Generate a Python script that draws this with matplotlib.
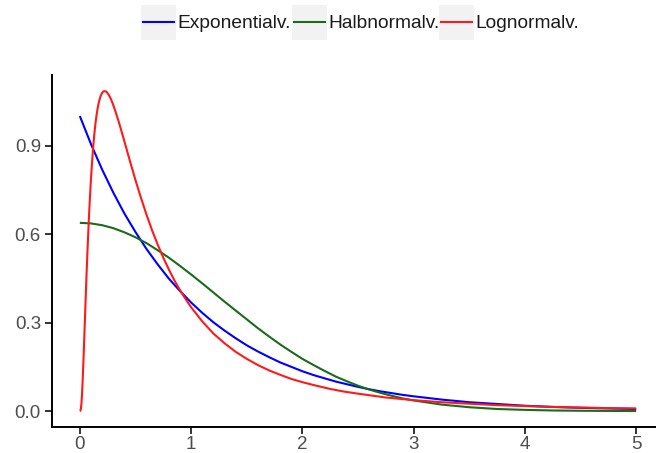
import numpy as np
import matplotlib.pyplot as plt
from matplotlib.patches import Rectangle
from matplotlib.lines import Line2D

# values
x_exp = [0, 0.1, 0.2, 0.3, 0.4, 0.5, 0.6, 0.7, 0.8, 0.9, 1.0, 1.1, 1.2, 1.3, 1.4, 1.5,
         1.6, 1.7, 1.8, 1.9, 2.0, 2.1, 2.2, 2.3, 2.4, 2.5, 2.6, 2.7, 2.8, 2.9, 3.0,
         3.25, 3.5, 3.75, 4.0, 4.25, 4.5, 4.75, 5.0]
y_exp = [1.000, 0.905, 0.819, 0.741, 0.670, 0.607, 0.549, 0.497, 0.449, 0.407, 0.368,
         0.333, 0.301, 0.273, 0.247, 0.223, 0.202, 0.183, 0.165, 0.150, 0.135,
         0.122, 0.111, 0.100, 0.091, 0.082, 0.074, 0.067, 0.061, 0.055, 0.050,
         0.039, 0.030, 0.024, 0.018, 0.014, 0.011, 0.009, 0.007]

x_half = x_exp
y_half = [0.638, 0.636, 0.630, 0.620, 0.606, 0.589, 0.569, 0.545, 0.520, 0.492, 0.463,
          0.433, 0.402, 0.371, 0.341, 0.311, 0.281, 0.253, 0.226, 0.201, 0.177,
          0.156, 0.136, 0.117, 0.101, 0.086, 0.073, 0.062, 0.052, 0.043, 0.036,
          0.022, 0.013, 0.007, 0.004, 0.002, 0.001, 0.0005, 0.0002]

x_log = [0, 0.005, 0.01, 0.015, 0.02, 0.025, 0.03, 0.035, 0.04, 0.045, 0.05, 0.055, 0.06,
         0.07, 0.08, 0.09, 0.10, 0.11, 0.12, 0.13, 0.14, 0.15, 0.16, 0.17, 0.18, 0.19,
         0.20, 0.21, 0.22, 0.23, 0.24, 0.25, 0.26, 0.28, 0.30, 0.325, 0.35, 0.375, 0.40,
         0.45, 0.50, 0.55, 0.60, 0.65, 0.70, 0.75, 0.80, 0.85, 0.90, 0.95, 1.0, 1.1, 1.2,
         1.3, 1.4, 1.5, 1.6, 1.7, 1.8, 1.9, 2.0, 2.125, 2.25, 2.375, 2.5, 2.75, 3.0,
         3.25, 3.5, 3.75, 4.0, 4.25, 4.5, 4.75, 5.0]
y_log = [0.0, 0.001, 0.009, 0.028, 0.059, 0.099, 0.145, 0.195, 0.248, 0.301, 0.354, 0.407,
         0.458, 0.554, 0.640, 0.718, 0.785, 0.844, 0.895, 0.937, 0.973, 1.002, 1.026, 1.045,
         1.059, 1.071, 1.078, 1.083, 1.084, 1.084, 1.082, 1.077, 1.072, 1.057, 1.038, 1.010,
         0.980, 0.948, 0.915, 0.848, 0.783, 0.722, 0.665, 0.612, 0.564, 0.520, 0.480, 0.443,
         0.410, 0.380, 0.352, 0.304, 0.263, 0.230, 0.201, 0.177, 0.156, 0.138, 0.123, 0.109,
         0.098, 0.086, 0.075, 0.066, 0.059, 0.046, 0.037, 0.030, 0.025, 0.020, 0.017, 0.014,
         0.012, 0.010, 0.009]

series = [("Exponentialv.", x_exp, y_exp, "#0000FF"),
          ("Halbnormalv.", x_half, y_half, "#1A6B1A"),
          ("Lognormalv.", x_log, y_log, "#FF1A1A")]

plt.rcParams['font.family'] = ['Liberation Sans', 'DejaVu Sans']

W, H = 656, 453
fig = plt.figure(figsize=(W/100, H/100), dpi=100)
# axes runs a bit past the right edge like in the reference
ax = fig.add_axes([52/W, (H-427)/H, 612/W, 352/H])

for name, xs, ys, col in series:
    ax.plot(xs, ys, color=col, lw=1.5, solid_capstyle='butt', solid_joinstyle='round')

ax.set_xlim(-0.25, 5.25)
ax.set_ylim(-0.054, 1.139)
ax.set_xticks([0, 1, 2, 3, 4, 5])
ax.set_yticks([0.0, 0.3, 0.6, 0.9])
ax.set_yticklabels(["0.0", "0.3", "0.6", "0.9"])
for s in ['top', 'right']:
    ax.spines[s].set_visible(False)
for s in ['left', 'bottom']:
    ax.spines[s].set_linewidth(1.4)
ax.tick_params(length=5, width=1.4, colors='#333333', labelcolor='#4D4D4D',
               labelsize=13.5, pad=3)
ax.tick_params(axis='x', pad=1.5)

# legend on top, drawn by hand in pixel coords
box_x = [141, 292, 439]
for (name, xs, ys, col), bx in zip(series, box_x):
    fig.patches.append(Rectangle((bx/W, (H-40)/H), 35/W, 35/H, transform=fig.transFigure,
                                 facecolor='#F2F2F2', edgecolor='none'))
    fig.lines.append(Line2D([(bx+2)/W, (bx+33)/W], [(H-22)/H, (H-22)/H],
                            transform=fig.transFigure, color=col, lw=1.5))
    fig.text((bx+36)/W, (H-23)/H, name, ha='left', va='center', fontsize=13.8,
             color='#1A1A1A')

fig.savefig("out.png", dpi=100)
